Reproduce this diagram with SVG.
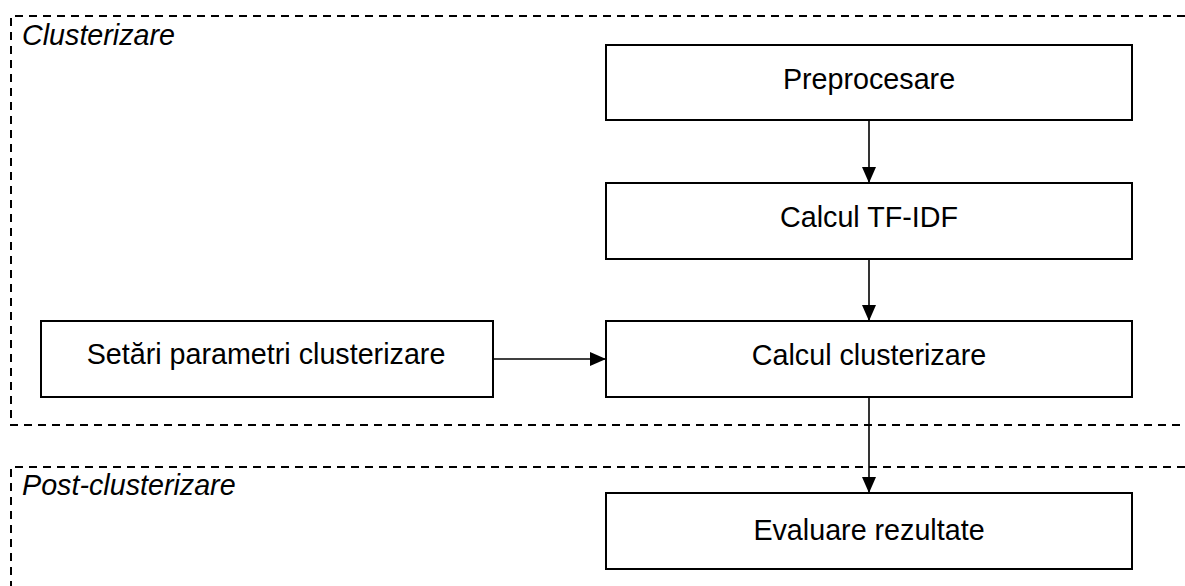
<svg xmlns="http://www.w3.org/2000/svg" width="1185" height="586" viewBox="0 0 1185 586">
  <style>
    .frame { fill: none; stroke: #000; stroke-width: 2; stroke-dasharray: 8 6; }
    .box { fill: #fff; stroke: #000; stroke-width: 2; }
    .lbl { font-family: "Liberation Sans", Arial, sans-serif; font-size: 28.7px; fill: #000; text-anchor: middle; }
    .title { font-family: "Liberation Sans", Arial, sans-serif; font-size: 28.7px; font-style: italic; fill: #000; }
    .edge { fill: none; stroke: #000; stroke-width: 1.6; }
  </style>
  <defs>
    <marker id="arrow" viewBox="0 0 16 14" refX="16" refY="7" markerWidth="16" markerHeight="14" markerUnits="userSpaceOnUse" orient="auto">
      <path d="M0,0 L16,7 L0,14 Z" fill="#000"/>
    </marker>
  </defs>
  <rect width="1185" height="586" fill="#fff"/>

  <!-- stage frames -->
  <g id="stage-clusterizare">
    <path class="frame" d="M1185,16 H11 V425 H1185"/>
    <text class="title" x="22" y="45">Clusterizare</text>
  </g>
  <g id="stage-post">
    <path class="frame" d="M1185,467 H11 V586"/>
    <text class="title" x="22" y="495">Post-clusterizare</text>
  </g>

  <!-- connectors -->
  <g id="connectors">
    <line class="edge" x1="869" y1="120" x2="869" y2="183" marker-end="url(#arrow)"/>
    <line class="edge" x1="869" y1="259" x2="869" y2="321" marker-end="url(#arrow)"/>
    <line class="edge" x1="493" y1="359" x2="606" y2="359" marker-end="url(#arrow)"/>
    <line class="edge" x1="869" y1="397" x2="869" y2="493" marker-end="url(#arrow)"/>
  </g>

  <g id="preprocesare">
    <rect class="box" x="606" y="45" width="526" height="75"/>
    <text class="lbl" x="869" y="89">Preprocesare</text>
  </g>
  <g id="tfidf">
    <rect class="box" x="606" y="183" width="526" height="76"/>
    <text class="lbl" x="869" y="227">Calcul TF-IDF</text>
  </g>
  <g id="calcul-clusterizare">
    <rect class="box" x="606" y="321" width="526" height="76"/>
    <text class="lbl" x="869" y="365">Calcul clusterizare</text>
  </g>
  <g id="setari">
    <rect class="box" x="41" y="321" width="452" height="76"/>
    <text class="lbl" x="266" y="364">Setări parametri clusterizare</text>
  </g>
  <g id="evaluare">
    <rect class="box" x="606" y="493" width="526" height="76"/>
    <text class="lbl" x="869" y="540">Evaluare rezultate</text>
  </g>
</svg>
